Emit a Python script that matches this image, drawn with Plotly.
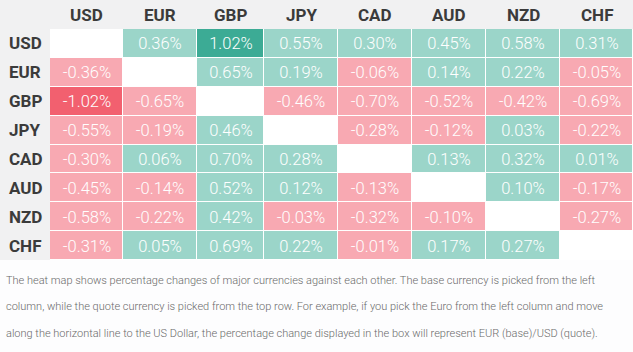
import plotly.graph_objects as go
import numpy as np

currencies = ["USD", "EUR", "GBP", "JPY", "CAD", "AUD", "NZD", "CHF"]
values = [
    [None, 0.36, 1.02, 0.55, 0.30, 0.45, 0.58, 0.31],
    [-0.36, None, 0.65, 0.19, -0.06, 0.14, 0.22, -0.05],
    [-1.02, -0.65, None, -0.46, -0.70, -0.52, -0.42, -0.69],
    [-0.55, -0.19, 0.46, None, -0.28, -0.12, 0.03, -0.22],
    [-0.30, 0.06, 0.70, 0.28, None, 0.13, 0.32, 0.01],
    [-0.45, -0.14, 0.52, 0.12, -0.13, None, 0.10, -0.17],
    [-0.58, -0.22, 0.42, -0.03, -0.32, -0.10, None, -0.27],
    [-0.31, 0.05, 0.69, 0.22, -0.01, 0.17, 0.27, None],
]
caption_lines = [
    "The heat map shows percentage changes of major currencies against each other. The base currency is picked from the left",
    "column, while the quote currency is picked from the top row. For example, if you pick the Euro from the left column and move",
    "along the horizontal line to the US Dollar, the percentage change displayed in the box will represent EUR (base)/USD (quote).",
]

# layout geometry (pixel units)
W, H = 633, 352
col_edges = [50, 123, 197, 264, 338, 412, 486, 560, 633]
row_edges = [29 + i * (231 / 8) for i in range(9)]
table_bottom = row_edges[-1]

z = np.array([[np.nan if v is None else v for v in row] for row in values])
text = [["" if v is None else f"{v:.2f}%" for v in row] for row in values]

light_teal = "#9bd5c9"
dark_teal = "#3cab95"
light_pink = "#f8a9b2"
dark_pink = "#f2606f"
zmin, zmax = -1.2, 1.2
def pos(v):
    return (v - zmin) / (zmax - zmin)
colorscale = [
    [0.0, dark_pink], [pos(-1.0), dark_pink],
    [pos(-1.0), light_pink], [pos(0.0), light_pink],
    [pos(0.0), light_teal], [pos(1.0), light_teal],
    [pos(1.0), dark_teal], [1.0, dark_teal],
]

fig = go.Figure(go.Heatmap(
    z=z, x=col_edges, y=row_edges,
    text=text, texttemplate="%{text}",
    textfont=dict(family="Roboto", size=16.5, color="white", weight=300),
    colorscale=colorscale, zmin=zmin, zmax=zmax, showscale=False,
    xgap=1, ygap=1, hoverongaps=False,
))

shapes = [
    dict(type="rect", xref="x", yref="y", x0=0, x1=W, y0=0, y1=row_edges[0],
         fillcolor="#f1f1f2", line_width=0, layer="below"),
    dict(type="rect", xref="x", yref="y", x0=0, x1=col_edges[0], y0=0, y1=table_bottom,
         fillcolor="#f1f1f2", line_width=0, layer="below"),
]

annotations = []
hdr_font = dict(family="Roboto", size=17, color="#3b3b3b", weight="bold")
for i, c in enumerate(currencies):
    cx = (col_edges[i] + col_edges[i + 1]) / 2
    annotations.append(dict(x=cx, y=row_edges[0] / 2, xref="x", yref="y", text=c,
                            showarrow=False, font=hdr_font, xanchor="center", yanchor="middle"))
    cy = (row_edges[i] + row_edges[i + 1]) / 2
    annotations.append(dict(x=7, y=cy, xref="x", yref="y", text=c, showarrow=False,
                            font=hdr_font, xanchor="left", yanchor="middle"))

line_y = [280, 306.5, 333]
for ly, t in zip(line_y, caption_lines):
    annotations.append(dict(x=4 / W, y=1 - ly / H, xref="paper", yref="paper", text=t,
                            showarrow=False, xanchor="left", yanchor="middle",
                            font=dict(family="Roboto", size=11, color="#6a6a6a", weight=300)))

fig.update_layout(
    width=W, height=H, margin=dict(l=0, r=0, t=0, b=0),
    paper_bgcolor="#fdfdfe", plot_bgcolor="white",
    xaxis=dict(range=[0, W], domain=[0, 1], showgrid=False, zeroline=False,
               showticklabels=False, ticks="", fixedrange=True),
    yaxis=dict(range=[table_bottom, 0], domain=[1 - table_bottom / H, 1], showgrid=False,
               zeroline=False, showticklabels=False, ticks="", fixedrange=True),
    shapes=shapes, annotations=annotations,
)

fig.write_html("out.html")
